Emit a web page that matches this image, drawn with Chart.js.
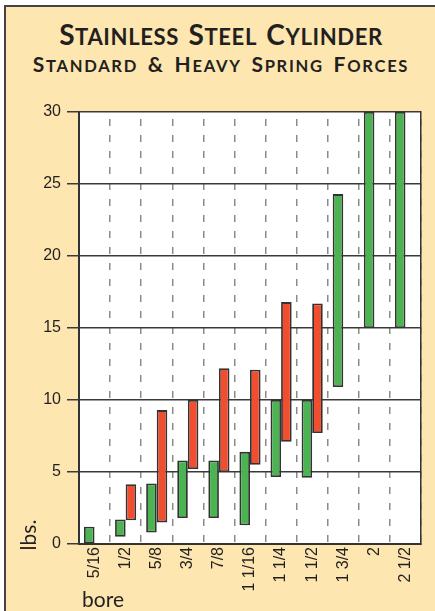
<!DOCTYPE html>
<html>
<head>
<meta charset="utf-8">
<script src="https://cdn.jsdelivr.net/npm/chart.js@4/dist/chart.umd.min.js"></script>
<style>
  html, body { margin: 0; padding: 0; background: #fff; }
  #frame {
    position: absolute; left: 4px; top: 5px; width: 440px; height: 620px;
    background: #fde6b0; border-top: 2px solid #444; border-left: 2px solid #444;
  }
  .txt {
    position: absolute; white-space: nowrap; color: #231f20;
    font-family: Lato, "Open Sans", sans-serif;
  }
  .ttl { left: 4px; width: 434px; text-align: center; font-weight: 700; }
  .ttl .s { font-size: 0.79em; text-transform: uppercase; }
  #t1 { top: 20px; font-size: 28px; line-height: 28px; letter-spacing: 0.6px; word-spacing: 2px; }
  #t2 { top: 53px; font-size: 21px; line-height: 21px; letter-spacing: 1.7px; word-spacing: 3px; }
  #bore { left: 82px; top: 588px; font-size: 21px; line-height: 21px; }
  #lbs { left: 27px; top: 535px; font-size: 21px; line-height: 21px; transform: translate(-50%, -50%) rotate(-90deg); }
  #wrap { position: absolute; left: 0; top: 0; width: 435px; height: 611px; }
</style>
</head>
<body>
<div id="frame"></div>
<div class="txt ttl" id="t1">S<span class="s">tainless</span> S<span class="s">teel</span> C<span class="s">ylinder</span></div>
<div class="txt ttl" id="t2">S<span class="s">tandard</span> &amp; H<span class="s">eavy</span> S<span class="s">pring</span> F<span class="s">orces</span></div>
<div id="wrap"><canvas id="springChart"></canvas></div>
<div class="txt" id="lbs">lbs.</div>
<div class="txt" id="bore">bore</div>
<script>
const bores = ["5/16", "1/2", "5/8", "3/4", "7/8", "1 1/16", "1 1/4", "1 1/2", "1 3/4", "2", "2 1/2"];
// [min, max] force in lbs
const standardForce = [[0, 1.2], [0.5, 1.7], [0.8, 4.2], [1.8, 5.8], [1.8, 5.8], [1.3, 6.4], [4.65, 10], [4.6, 10], [10.9, 24.3], [15, 30], [15, 30]];
const heavyForce = [null, [1.65, 4.15], [1.5, 9.3], [5.2, 10], [5.0, 12.2], [5.5, 12.1], [7.1, 16.8], [7.7, 16.7], null, null, null];
const yTicks = [0, 5, 10, 15, 20, 25, 30];

// white plot area on the beige page
const plotBg = {
  id: "plotBg",
  beforeDraw(chart) {
    const { ctx, chartArea: a } = chart;
    ctx.save();
    ctx.fillStyle = "#ffffff";
    ctx.fillRect(a.left, a.top, a.right - a.left, a.bottom - a.top);
    ctx.restore();
  }
};

new Chart(document.getElementById("springChart"), {
  type: "bar",
  data: {
    labels: bores,
    datasets: [
      {
        label: "Standard",
        data: standardForce,
        backgroundColor: "#4cb352",
        borderColor: "#333333",
        borderWidth: 1.8,
        borderSkipped: false
      },
      {
        label: "Heavy",
        data: heavyForce,
        backgroundColor: "#f04e2e",
        borderColor: "#333333",
        borderWidth: 1.8,
        borderSkipped: false
      }
    ]
  },
  options: {
    responsive: true,
    maintainAspectRatio: false,
    animation: false,
    layout: { padding: { left: 0, top: 112, right: 14, bottom: 0 } },
    datasets: { bar: { barPercentage: 1, categoryPercentage: 0.68 } },
    plugins: {
      legend: { display: false },
      tooltip: { enabled: false }
    },
    scales: {
      x: {
        grid: {
          offset: true,
          color: "#8a8a8a",
          lineWidth: 1.5,
          drawTicks: false,
          tickLength: 0
        },
        border: { color: "#333333", width: 2, dash: [7, 9], dashOffset: 9 },
        ticks: {
          color: "#231f20",
          font: { family: "'Liberation Sans', Arial, sans-serif", size: 16 },
          minRotation: 90,
          maxRotation: 90,
          autoSkip: false,
          padding: 3
        },
        afterFit(scale) { scale.height = 67; }
      },
      y: {
        min: 0,
        max: 30,
        afterBuildTicks(scale) { scale.ticks = yTicks.map(v => ({ value: v })); },
        grid: { color: "#3a3a3a", lineWidth: 1.5, tickLength: 12 },
        border: { color: "#333333", width: 2 },
        ticks: {
          color: "#231f20",
          font: { family: "'Liberation Sans', Arial, sans-serif", size: 16 },
          padding: 6
        },
        afterFit(scale) { scale.width = 79; }
      },
      y2: {
        position: "right",
        grid: { display: false, drawTicks: false },
        ticks: { display: false },
        border: { color: "#333333", width: 1.5 },
        afterFit(scale) { scale.width = 0; }
      }
    }
  },
  plugins: [plotBg]
});
</script>
</body>
</html>
